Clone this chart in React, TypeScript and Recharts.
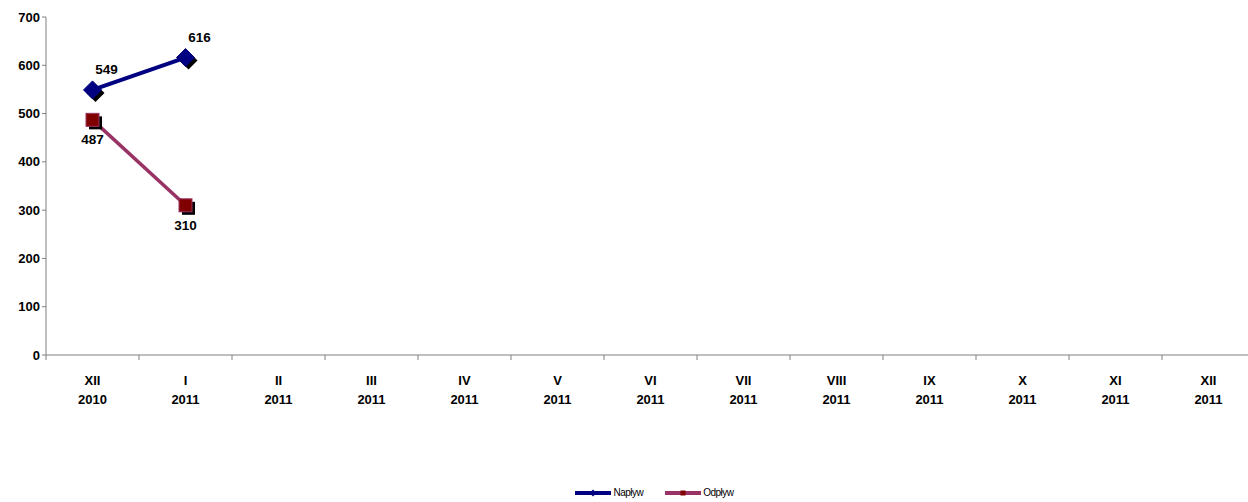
import { Legend, Line, LineChart, XAxis, YAxis } from "recharts";

const months = ["XII", "I", "II", "III", "IV", "V", "VI", "VII", "VIII", "IX", "X", "XI", "XII"];
const years = ["2010", "2011", "2011", "2011", "2011", "2011", "2011", "2011", "2011", "2011", "2011", "2011", "2011"];
const naplyw = [549, 616];
const odplyw = [487, 310];
const yTicks = [0, 100, 200, 300, 400, 500, 600, 700];

const data = months.map((m, i) => ({
    label: m + "|" + years[i],
    naplyw: naplyw[i] ?? null,
    odplyw: odplyw[i] ?? null,
}));

const FONT = "'Liberation Sans', Arial, sans-serif";
const HALF_BAND = 46.5;

function MonthTick({ x, y, payload }: any) {
    const [m, yr] = String(payload.value).split("|");
    return (
        <g>
            <line x1={x - HALF_BAND} y1={y - 8} x2={x - HALF_BAND} y2={y - 3} stroke="#808080" />
            <text x={x} y={y} textAnchor="middle" fontFamily={FONT} fontWeight="bold" fontSize={13} fill="#000">
                <tspan x={x} dy={22}>{m}</tspan>
                <tspan x={x} dy={19}>{yr}</tspan>
            </text>
        </g>
    );
}

function DiamondDot({ cx, cy }: any) {
    if (cx == null || cy == null) return null;
    const r = 9;
    const d = (ox: number, oy: number) =>
        `M${cx + ox},${cy + oy - r} L${cx + ox + r},${cy + oy} L${cx + ox},${cy + oy + r} L${cx + ox - r},${cy + oy} Z`;
    return (
        <g>
            <path d={d(3, 3)} fill="#000" />
            <path d={d(0, 0)} fill="#000080" stroke="#000080" />
        </g>
    );
}

function SquareDot({ cx, cy }: any) {
    if (cx == null || cy == null) return null;
    const s = 6.5;
    return (
        <g>
            <rect x={cx - s + 3} y={cy - s + 3} width={s * 2} height={s * 2} fill="#000" />
            <rect x={cx - s} y={cy - s} width={s * 2} height={s * 2} fill="#800000" stroke="#993366" strokeWidth={1} />
        </g>
    );
}

const makeLabel = (dx: number, dy: number) => (props: any) => {
    const { x, y, value } = props;
    if (value == null) return null;
    return (
        <text x={x + dx} y={y + dy} textAnchor="middle" dominantBaseline="central" fontFamily={FONT} fontWeight="bold" fontSize={13.5} fill="#000">
            {value}
        </text>
    );
};

function LegendContent() {
    const item = (color: string, name: string, marker: "d" | "s") => (
        <div style={{ display: "flex", alignItems: "center", marginRight: 22 }}>
            <svg width={38} height={10}>
                <line x1={0} y1={5} x2={36} y2={5} stroke={color} strokeWidth={4} />
                {marker === "d" ? (
                    <path d="M18,1.5 L21.5,5 L18,8.5 L14.5,5 Z" fill="#000080" />
                ) : (
                    <rect x={15.5} y={2.5} width={5} height={5} fill="#800000" />
                )}
            </svg>
            <span style={{ fontFamily: FONT, fontSize: 10, letterSpacing: -0.5, color: "#000" }}>{name}</span>
        </div>
    );
    return (
        <div style={{ height: 87, display: "flex", alignItems: "flex-end", justifyContent: "center", paddingLeft: 76 }}>
            <div style={{ display: "flex", marginBottom: 4 }}>
                {item("#000080", "Napływ", "d")}
                {item("#993366", "Odpływ", "s")}
            </div>
        </div>
    );
}

export default function App() {
    return (
        <div style={{ position: "fixed", left: 0, top: 0, width: 1248, height: 502, overflow: "hidden", background: "#fff" }}>
            <LineChart width={1262} height={502} data={data} margin={{ top: 17, right: 7, bottom: 0, left: 0 }}>
                <XAxis
                    dataKey="label"
                    scale="band"
                    interval={0}
                    height={60}
                    tick={<MonthTick />}
                    tickLine={false}
                    axisLine={{ stroke: "#808080" }}
                />
                <YAxis
                    domain={[0, 700]}
                    ticks={yTicks}
                    interval={0}
                    width={46}
                    tickSize={4}
                    tickLine={{ stroke: "#808080" }}
                    axisLine={{ stroke: "#808080" }}
                    tick={{ fontFamily: FONT, fontWeight: "bold", fontSize: 13, fill: "#000" }}
                />
                <Legend verticalAlign="bottom" height={87} content={<LegendContent />} />
                <Line
                    name="Napływ"
                    dataKey="naplyw"
                    stroke="#000080"
                    strokeWidth={4}
                    dot={<DiamondDot />}
                    label={makeLabel(14, -20)}
                    isAnimationActive={false}
                />
                <Line
                    name="Odpływ"
                    dataKey="odplyw"
                    stroke="#993366"
                    strokeWidth={3.5}
                    dot={<SquareDot />}
                    label={makeLabel(0, 20)}
                    isAnimationActive={false}
                />
            </LineChart>
        </div>
    );
}
